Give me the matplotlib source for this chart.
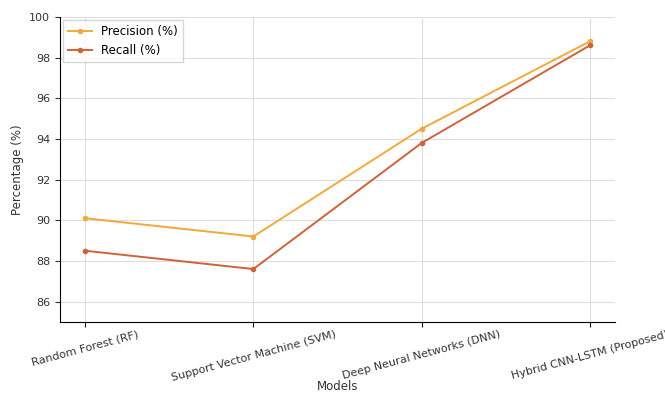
import matplotlib.pyplot as plt

models = ["Random Forest (RF)", "Support Vector Machine (SVM)",
          "Deep Neural Networks (DNN)", "Hybrid CNN-LSTM (Proposed)"]
precision = [90.1, 89.2, 94.5, 98.8]
recall = [88.5, 87.6, 93.8, 98.6]

fig = plt.figure(figsize=(6.65, 3.94), dpi=100)
ax = fig.add_axes([0.09, 0.183, 0.835, 0.774])

x = range(len(models))
ax.plot(x, precision, marker="o", markersize=3, linewidth=1.4,
        color="#f2a93b", label="Precision (%)")
ax.plot(x, recall, marker="o", markersize=3, linewidth=1.4,
        color="#d0623a", label="Recall (%)")

ax.set_ylim(85, 100)
ax.set_yticks([86, 88, 90, 92, 94, 96, 98, 100])
ax.set_xticks(list(x))
ax.set_xticklabels(models, rotation=15, ha="center", fontsize=8, color="#333333")
ax.tick_params(axis="x", pad=2)
ax.tick_params(axis="y", labelsize=8, colors="#333333")
ax.set_xlabel("Models", fontsize=8.5, color="#333333")
ax.xaxis.set_label_coords(0.5, -0.19)
ax.set_ylabel("Percentage (%)", fontsize=8.5, color="#333333")
ax.grid(True, color="#dddddd", linewidth=0.8)
ax.spines["top"].set_visible(False)
ax.spines["right"].set_visible(False)
ax.legend(loc="upper left", fontsize=8.5, frameon=True, fancybox=False,
          edgecolor="#cccccc", borderaxespad=0.3)

fig.savefig("out.png", dpi=100)
